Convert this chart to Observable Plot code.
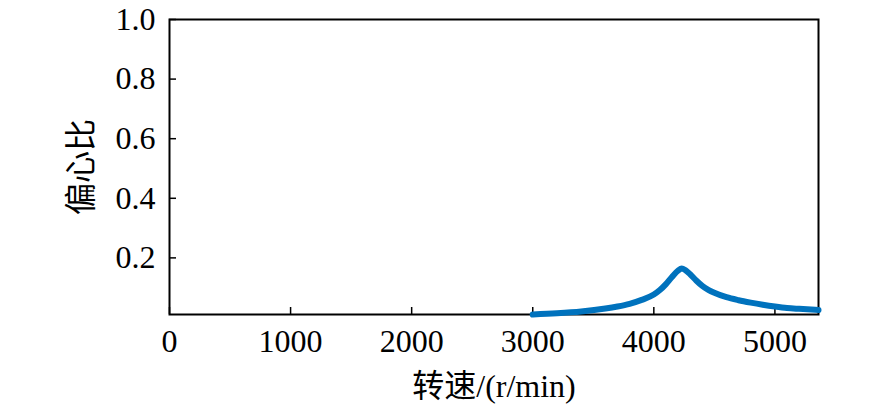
<!DOCTYPE html>
<html>
<head>
<meta charset="utf-8">
<script src="https://cdn.jsdelivr.net/npm/d3@7"></script>
<script src="https://cdn.jsdelivr.net/npm/@observablehq/plot@0.6"></script>
<style>
  html, body { margin: 0; padding: 0; background: #fff; }
  svg { display: block; }
</style>
</head>
<body>
<div id="chart"></div>
<script>
const speed = [3000, 3200, 3400, 3600, 3700, 3800, 3900, 4000, 4050, 4100, 4150, 4200, 4230, 4260, 4300, 4350, 4400, 4450, 4500, 4600, 4700, 4800, 4900, 5000, 5100, 5200, 5360];
const ratio = [0.010, 0.014, 0.020, 0.030, 0.037, 0.046, 0.059, 0.077, 0.092, 0.112, 0.136, 0.157, 0.164, 0.159, 0.145, 0.124, 0.106, 0.093, 0.083, 0.068, 0.058, 0.050, 0.043, 0.037, 0.032, 0.029, 0.025];
const xTicks = [0, 1000, 2000, 3000, 4000, 5000];
const yTicks = [0.2, 0.4, 0.6, 0.8, 1.0];
const xLabel = "转速/(r/min)";
const yLabel = "偏心比";

const data = speed.map((s, i) => ({speed: s, ratio: ratio[i]}));

const chart = Plot.plot({
  width: 886,
  height: 410,
  marginLeft: 169,
  marginRight: 68,
  marginTop: 19,
  marginBottom: 96,
  style: {fontFamily: "'Liberation Serif', 'Times New Roman', 'Noto Sans CJK SC', serif", fontSize: "32px", color: "#000", background: "#fff"},
  x: {domain: [0, 5360]},
  y: {domain: [0.01, 1]},
  marks: [
    Plot.axisX(xTicks, {tickSize: -7, tickPadding: 22, strokeWidth: 1.5, tickFormat: d3.format("d"), label: xLabel, labelAnchor: "center", labelArrow: "none", labelOffset: 82, fontSize: 32}),
    Plot.axisY(yTicks, {tickSize: -7, tickPadding: 21, strokeWidth: 1.5, tickFormat: d3.format(".1f"), label: yLabel, labelAnchor: "center", labelArrow: "none", labelOffset: 100, fontSize: 32}),
    Plot.frame({stroke: "#000", strokeWidth: 2}),
    Plot.line(data, {x: "speed", y: "ratio", stroke: "#0072BD", strokeWidth: 6, curve: "monotone-x", strokeLinecap: "round", strokeLinejoin: "round"})
  ]
});
document.getElementById("chart").appendChild(chart);
</script>
</body>
</html>
